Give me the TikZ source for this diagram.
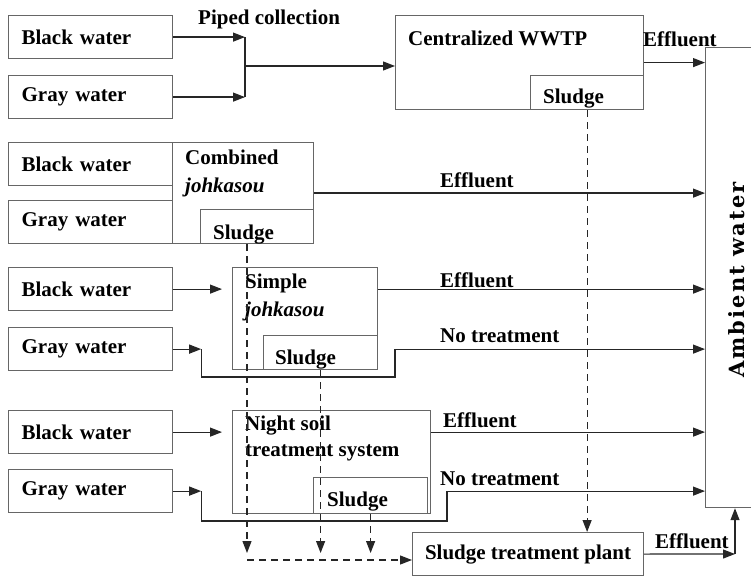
\documentclass[tikz,border=0pt]{standalone}
\usepackage{fontspec}
\setmainfont{Liberation Serif}
\newfontfamily\ambfont[LetterSpace=10]{DejaVu Serif}
\usetikzlibrary{arrows.meta}
\usetikzlibrary{calc}

\begin{document}
\begin{tikzpicture}
		[x=1pt, y=-1pt,
			font=\fontsize{21}{25}\selectfont\bfseries,
			box/.style={rectangle, draw=black!60, line width=1.2pt, inner sep=0pt, anchor=north west},
			source/.style={box, text width=138pt, inner xsep=13pt, minimum height=43pt, align=left},
			sub/.style={box, anchor=south east, minimum width=114pt, minimum height=34pt},
			txt/.style={inner sep=0pt, anchor=base west},
			line/.style={line width=1.2pt, black!85},
			flow/.style={line, -{Triangle[length=12pt, width=9pt]}},
			sludgeflow/.style={flow, dash pattern=on 7pt off 5pt}]
		\useasboundingbox (0,0) rectangle (751,577);
		% define source boxes
		\node[source] (bw1) at (8,15) {Black water};
		\node[source] (gw1) at (8,75) {Gray water};
		\node[source] (bw2) at (8,142) {Black water};
		\node[source] (gw2) at (8,200) {Gray water};
		\node[source] (bw3) at (8,267) {Black water};
		\node[source] (gw3) at (8,327) {Gray water};
		\node[source] (bw4) at (8,410) {Black water};
		\node[source] (gw4) at (8,469) {Gray water};
		% define treatment boxes and their sludge parts
		\node[box, minimum width=248pt, minimum height=94pt] (wwtp) at (395,15) {};
		\node[sub, minimum width=113pt] (wwtps) at (wwtp.south east) {};
		\node[box, minimum width=141pt, minimum height=101pt] (comb) at (172,142) {};
		\node[sub, minimum width=113pt] (combs) at (comb.south east) {};
		\node[box, minimum width=145pt, minimum height=102pt] (simp) at (232,267) {};
		\node[sub] (simps) at (simp.south east) {};
		\node[box, minimum width=198pt, minimum height=103pt] (night) at (232,410) {};
		\node[sub, minimum height=36pt] (nights) at ($(night.south east)+(-3,0)$) {};
		\node[box, minimum width=231pt, minimum height=43pt] (stp) at (412,532) {Sludge treatment plant};
		\node[box, minimum width=50pt, minimum height=460pt] (amb) at (705,47) {};
		% label the boxes
		\node[txt] (wwtpT) at (408,46) {Centralized WWTP};
		\node[txt] (wwtpsT) at (543,104) {Sludge};
		\node[txt] (combT) at (185,165) {Combined};
		\node[txt] (combT2) at (185,193) {\itshape johkasou};
		\node[txt] (combsT) at (213,239) {Sludge};
		\node[txt] (simpT) at (245,288) {Simple};
		\node[txt] (simpT2) at (245,316) {\itshape johkasou};
		\node[txt] (simpsT) at (275,364) {Sludge};
		\node[txt] (nightT) at (245,430) {Night soil};
		\node[txt] (nightT2) at (245,456) {treatment system};
		\node[txt] (nightsT) at (327,506) {Sludge};
		\node[rotate=90, inner sep=0pt, font=\ambfont\fontsize{21}{25}\selectfont\bfseries] (ambT) at (737,280) {Ambient water};
		% piped collection
		\coordinate (join) at (245,66);
		\draw[flow] (bw1.east) -- (bw1.east -| join);
		\draw[flow] (gw1.east) -- (gw1.east -| join);
		\draw[line] (bw1.east -| join) -- (gw1.east -| join);
		\draw[flow] (join) -- (join -| wwtp.west);
		\draw[flow] (wwtp.east) -- (wwtp.east -| amb.west);
		\node[txt] (pipeL) at (198,25) {Piped collection};
		\node[txt] (wwtpL) at (643,47) {Effluent};
		% combined johkasou
		\draw[flow] (comb.east) -- (comb.east -| amb.west);
		\node[txt] (combL) at (440,188) {Effluent};
		% simple johkasou
		\coordinate (g3) at ($(gw3.east)+(28,0)$);
		\coordinate (g3low) at (395,377);
		\draw[flow, shorten >=10pt] (bw3.east) -- (bw3.east -| simp.west);
		\draw[flow] (bw3.east -| simp.east) -- (bw3.east -| amb.west);
		\draw[flow] (gw3.east) -- (g3);
		\draw[flow] (g3) |- (g3low) |- (gw3.east -| amb.west);
		\node[txt] (simpL) at (440,287) {Effluent};
		\node[txt] (simpL2) at (440,342) {No treatment};
		% night soil treatment system
		\coordinate (g4) at ($(gw4.east)+(28,0)$);
		\coordinate (g4low) at (447,521);
		\draw[flow, shorten >=10pt] (bw4.east) -- (bw4.east -| night.west);
		\draw[flow] (bw4.east -| night.east) -- (bw4.east -| amb.west);
		\draw[flow] (gw4.east) -- (g4);
		\draw[flow] (g4) |- (g4low) |- (gw4.east -| amb.west);
		\node[txt] (nightL) at (443,427) {Effluent};
		\node[txt] (nightL2) at (440,485) {No treatment};
		% sludge to the treatment plant
		\coordinate (sj) at (247,560);
		\draw[sludgeflow] (wwtps.south) -- (wwtps.south |- stp.north);
		\draw[sludgeflow, shorten >=7pt] (combs.south -| sj) -- (sj);
		\draw[sludgeflow, shorten >=7pt] (simps.south) -- (simps.south |- sj);
		\draw[sludgeflow, shorten >=7pt] (nights.south) -- (nights.south |- sj);
		\draw[sludgeflow] (sj) -- (sj -| stp.west);
		% effluent of the plant
		\coordinate (out) at (735,554);
		\draw[flow] (stp.east) -- (out);
		\draw[flow] (out) -- (out |- amb.south);
		\node[txt] (stpL) at (655,548) {Effluent};
	\end{tikzpicture}
\end{document}
